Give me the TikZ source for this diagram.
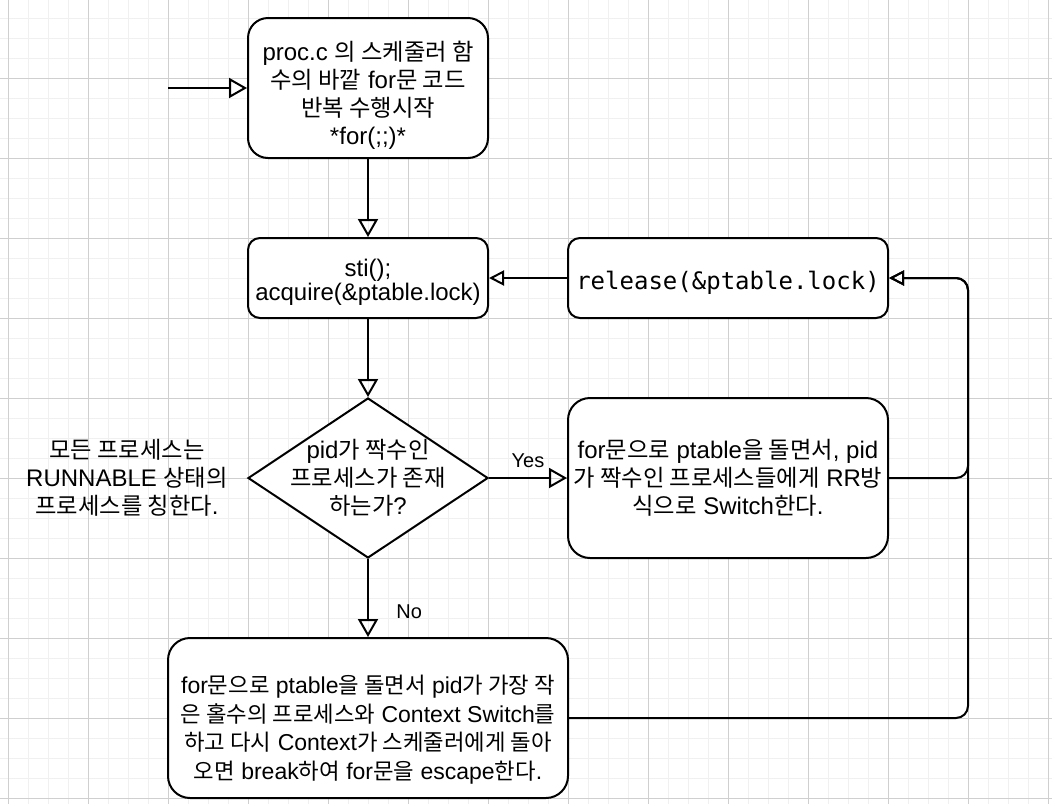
\documentclass[tikz,border=0pt]{standalone}
\usepackage{fontspec}
\setmainfont{Liberation Sans}
\newfontfamily\krfont[Scale=0.97]{Noto Sans CJK KR}
\newfontfamily\codefont{DejaVu Sans Mono}
\usetikzlibrary{shapes.geometric,arrows.meta}
\newcommand\kr[1]{{\krfont #1}}
\newcommand\topgap[1]{\rule{0pt}{#1}}

\tikzset{
  box/.style={draw, fill=white, line width=2pt, rounded corners=12pt, align=center,
    minimum width=240pt, minimum height=80pt, inner sep=0pt, font=\fontsize{24}{28}\selectfont},
  bigbox/.style={box, rounded corners=22pt},
  decision/.style={draw, fill=white, diamond, line width=2pt, minimum width=240pt,
    minimum height=160pt, inner sep=0pt},
  txt/.style={align=center, font=\fontsize{24}{28}\selectfont},
  lbl/.style={font=\fontsize{20}{24}\selectfont},
  arr/.style={line width=2pt, -{Triangle[open,length=18pt,width=20pt]}},
  backarr/.style={line width=2pt, rounded corners=12pt, -{Triangle[open,length=15pt,width=15pt]}},
  minorgrid/.style={black!6, line width=1pt},
  majorgrid/.style={black!19, line width=1pt}
}

\begin{document}
\begin{tikzpicture}[x=1pt,y=-1pt]
    \useasboundingbox (0,0) rectangle (1052,804);
    \fill[white] (0,0) rectangle (1052,804);
    \foreach \x in {8,28,...,1048} \draw[minorgrid] (\x,0) -- (\x,804);
    \foreach \y in {18,38,...,798} \draw[minorgrid] (0,\y) -- (1052,\y);
    \foreach \x in {8,88,...,1048} \draw[majorgrid] (\x,0) -- (\x,804);
    \foreach \y in {78,158,...,798} \draw[majorgrid] (0,\y) -- (1052,\y);

    \node[bigbox, minimum height=140pt, rounded corners=20pt] (start) at (368,88)
        {\topgap{33pt}proc.c \kr{의 스케줄러 함}\\\kr{수의 바깥} for\kr{문 코드}\\\kr{반복 수행시작}\\*for(;;)*};
    \node[box, font=\fontsize{24}{24}\selectfont] (sti) at (368,278) {\topgap{26pt}sti();\\acquire(\&ptable.lock)};
    \node[box, minimum width=320pt, font=\fontsize{24}{27}\codefont] (release) at (728,278)
        {\topgap{28pt}release(\&ptable.lock)};
    \node[decision] (check) at (368,478) {};
    \node[txt] (checktext) at (368,478) {pid\kr{가 짝수인}\\\kr{프로세스가 존재}\\\kr{하는가}?};
    \node[bigbox, minimum width=320pt, minimum height=160pt] (even) at (728,478)
        {for\kr{문으로} ptable\kr{을 돌면서}, pid\\\kr{가 짝수인 프로세스들에게} RR\kr{방}\\\kr{식으로} Switch\kr{한다}.};
    \node[bigbox, minimum width=400pt, minimum height=160pt, font=\fontsize{23}{28.5}\selectfont] (odd) at (368,718)
        {\topgap{42pt}for\kr{문으로} ptable\kr{을 돌면서} pid\kr{가 가장 작}\\\kr{은 홀수의 프로세스와} Context Switch\kr{를}\\\kr{하고 다시} Context\kr{가 스케줄러에게 돌아}\\\kr{오면} break\kr{하여} for\kr{문을} escape\kr{한다}.};
    \node[txt] (note) at (127,478) {\kr{모든 프로세스는}\\RUNNABLE \kr{상태의}\\\kr{프로세스를 칭한다}.};

    \coordinate (entry) at (168,88);
    \coordinate (loopback) at (968,278);

    \draw[arr] (entry) -- (start.west);
    \draw[arr] (start.south) -- (sti.north);
    \draw[backarr] (release.west) -- (sti.east);
    \draw[arr] (sti.south) -- (check.north);
    \draw[arr] (check.east) -- node[lbl, above=6pt] (yes) {Yes} (even.west);
    \draw[arr] (check.south) -- node[lbl, pos=0.68, right=24pt] (no) {No} (odd.north);
    \draw[backarr] (even.east) -| (loopback) -- (release.east);
    \draw[backarr] (odd.east) -| (loopback) -- (release.east);
\end{tikzpicture}
\end{document}
